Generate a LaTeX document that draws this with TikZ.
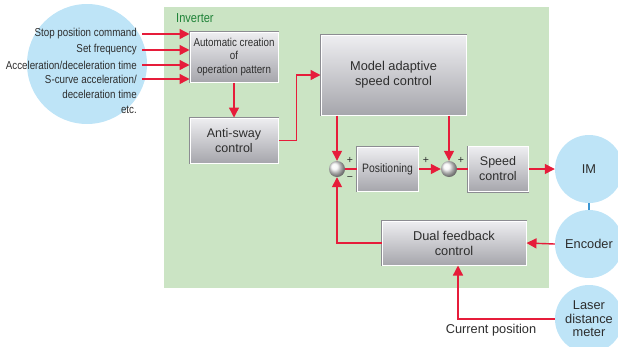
\documentclass[tikz,border=0pt]{standalone}
\usepackage{fontspec}
\setmainfont{Liberation Sans}
\newfontfamily\narrowfont[FakeStretch=0.85]{Liberation Sans}
\usetikzlibrary{arrows.meta,shadings}
\definecolor{sigred}{RGB}{230,28,58}
\definecolor{devblue}{RGB}{190,228,247}
\definecolor{invgreen}{RGB}{203,228,196}
\definecolor{invtext}{RGB}{30,130,55}
\definecolor{txt}{RGB}{45,45,45}
\definecolor{boxtop}{RGB}{238,238,241}
\definecolor{boxbot}{RGB}{166,166,172}
\definecolor{boxedge}{RGB}{140,140,146}
\tikzset{
  blk/.style={rectangle, inner sep=0pt, align=center, text=txt,
    top color=boxtop, bottom color=boxbot, draw=white, line width=1pt,
    preaction={draw=boxedge, line width=2pt}},
  device/.style={circle, fill=devblue, inner sep=0pt, minimum size=68pt,
    align=center, text=txt, font=\fontsize{12.8}{13.5}\selectfont},
  junction/.style={circle, inner sep=0pt, minimum size=16pt,
    shading=ball, ball color=gray!8},
  sig/.style={draw=sigred, line width=1.4pt},
  sigarrow/.style={sig, -{Triangle[length=10pt,width=10pt]}},
  inlabel/.style={anchor=east, inner sep=0pt, text=txt,
    font=\narrowfont\fontsize{11.5}{12}\selectfont},
  sign/.style={inner sep=0pt, text=txt, font=\fontsize{10.5}{10}\selectfont}
}
\begin{document}
\begin{tikzpicture}[x=1pt,y=-1pt]
\useasboundingbox (0,0) rectangle (618,346);

% command source and inverter housing
\node[device, minimum size=120pt] (src) at (87,64) {};
\fill[invgreen] (164,7) rectangle (549,288);
\node[anchor=west, inner sep=0pt, text=invtext,
  font=\narrowfont\fontsize{13}{13}\selectfont] (inv) at (176,18) {Inverter};

% input commands
\node[inlabel] (in1) at (137,34) {Stop position command};
\node[inlabel] (in2) at (137,50) {Set frequency};
\node[inlabel] (in3) at (137,65) {Acceleration/deceleration time};
\node[inlabel] (in4) at (137,79) {S-curve acceleration/};
\node[inlabel] (in5) at (137,94) {deceleration time};
\node[inlabel] (in6) at (137,110) {etc.};

% control blocks
\node[blk, minimum width=88pt, minimum height=50pt,
  font=\narrowfont\fontsize{11.5}{13.5}\selectfont] (auto) at (234,57)
  {Automatic creation\\of\\operation pattern};
\node[blk, minimum width=88pt, minimum height=45pt,
  font=\fontsize{12.5}{15}\selectfont] (anti) at (234,140.5)
  {Anti-sway\\control};
\node[blk, minimum width=145pt, minimum height=80pt,
  font=\fontsize{12.8}{15}\selectfont] (model) at (393.5,75)
  {Model adaptive\\speed control};
\node[blk, minimum width=61pt, minimum height=44pt,
  font=\narrowfont\fontsize{12.2}{13}\selectfont] (pos) at (387.5,169) {Positioning};
\node[blk, minimum width=60pt, minimum height=45pt,
  font=\fontsize{12.5}{15}\selectfont] (speed) at (498,169)
  {Speed\\control};
\node[blk, minimum width=144pt, minimum height=44pt,
  font=\fontsize{12.8}{15}\selectfont] (dual) at (454,243)
  {Dual feedback\\control};

% summing points
\node[junction] (s1) at (337,169) {};
\node[junction] (s2) at (449,169) {};
\node[sign] (s1p) at (350,160) {+};
\node[sign] (s1m) at (350,179) {\textminus};
\node[sign] (s2a) at (426,160) {+};
\node[sign] (s2b) at (461,160) {+};

% motor and sensors
\node[device] (im) at (589,169) {IM};
\node[device] (enc) at (589,244) {Encoder};
\node[device] (laser) at (589,319) {Laser\\distance\\meter};
\node[inner sep=0pt, text=txt, font=\fontsize{12.8}{14}\selectfont]
  (cur) at (491,330) {Current position};

% signal flow
\foreach \i in {1,...,4}
  \draw[sigarrow, shorten <=5pt] (in\i.east) -- (auto.west |- in\i.east);
\draw[sigarrow] (auto.south) -- (anti.north);
\draw[sigarrow] (anti.east) -| ([xshift=-24pt]model.west) -- (model.west);
\draw[sigarrow] (s1 |- model.south) -- (s1.north);
\draw[sigarrow] (s2 |- model.south) -- (s2.north);
\draw[sig] (s1.east) -- (pos.west);
\draw[sigarrow] (pos.east) -- (s2.west);
\draw[sig] (s2.east) -- (speed.west);
\draw[sigarrow] (speed.east) -- (im.west);
\draw[sigarrow] (enc.west) -- (dual.east);
\draw[sigarrow] (dual.west) -| (s1.south);
\draw[sigarrow] (laser.west) -| ([xshift=4pt]dual.south);
\draw[draw={rgb,255:red,60;green,150;blue,210}, line width=1.2pt]
  (im.south) -- (enc.north);
\end{tikzpicture}
\end{document}
